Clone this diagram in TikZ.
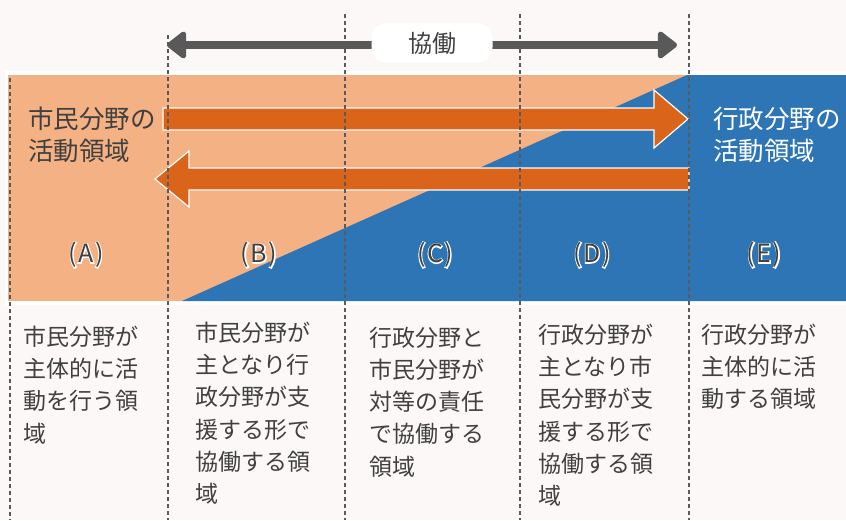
\documentclass[tikz,border=0pt]{standalone}
\usepackage{fontspec}
\setmainfont{Noto Sans CJK JP}
\newfontfamily\halofont[RawFeature={embolden=8}]{Noto Sans CJK JP}
\usetikzlibrary{arrows.meta}
\definecolor{bg}{HTML}{FBF8F7}
\definecolor{lorange}{HTML}{F4B183}
\definecolor{dorange}{HTML}{D9641A}
\definecolor{mblue}{HTML}{2E75B6}
\definecolor{tgray}{HTML}{404040}
\definecolor{agray}{HTML}{595959}
\definecolor{dgray}{HTML}{5A5A5A}
\tikzset{
  dashline/.style={draw=dgray, line width=1.4pt, dash pattern=on 4pt off 3pt},
  bigarrow/.style={draw=white, line width=1.2pt, fill=dorange, line join=miter},
  kyoarrow/.style={draw=agray, line width=7.5pt, {Triangle[length=21pt,width=31pt,round]}-{Triangle[length=21pt,width=31pt,round]}},
  kbox/.style={fill=white, rounded corners=16pt, minimum width=121pt, minimum height=40pt, inner sep=0pt, text=tgray, font=\fontsize{24}{28}\selectfont},
  areatext/.style={align=left, inner sep=0pt, anchor=west, font=\fontsize{25.5}{32}\selectfont},
  desc/.style={align=left, inner sep=0pt, anchor=north west, text=tgray, font=\fontsize{23}{32.3}\selectfont},
  lbl/.style={inner sep=0pt, text=tgray, font=\fontsize{25}{28}\selectfont}
}
\newcommand{\halotext}[1]{\rlap{\halofont\color{white}#1}#1}
\begin{document}
\begin{tikzpicture}[x=1pt,y=-1pt]
% background
\fill[bg] (0,0) rectangle (846,520);
\useasboundingbox (0,0) rectangle (846,520);
% band
\fill[white] (5,71) rectangle (846,305);
\fill[lorange] (8,75) rectangle (846,301);
\fill[mblue] (182,301) -- (687,75) -- (846,75) -- (846,301) -- cycle;
% big orange arrows
\draw[bigarrow] (163,108) -- (654,108) -- (654,90) -- (688,119) -- (654,148) -- (654,130) -- (163,130) -- cycle;
\draw[bigarrow] (689,168) -- (189,168) -- (189,151) -- (155,179) -- (189,207) -- (189,190) -- (689,190) -- cycle;
% dashed separators
\coordinate (d1t) at (10,78);  \coordinate (d1b) at (10,520);
\coordinate (d2t) at (168,35); \coordinate (d2b) at (168,520);
\coordinate (d3t) at (345,14); \coordinate (d3b) at (345,520);
\coordinate (d4t) at (520,14); \coordinate (d4b) at (520,520);
\coordinate (d5t) at (689,14); \coordinate (d5b) at (689,520);
\foreach \i in {1,...,5} \draw[dashline] (d\i t) -- (d\i b);
% kyodo arrow
\coordinate (kl) at (167,45);
\coordinate (kr) at (677,45);
\draw[kyoarrow] (kl) -- (kr);
\node[kbox] (kyo) at (432,43) {協働};
% area texts
\node[areatext, text=tgray] (shimin) at (28,135) {市民分野の\\活動領域};
\node[areatext, text=white] (gyosei) at (713,135) {行政分野の\\活動領域};
% labels
\node[lbl] (la) at (86,255) {\halotext{(\kern1.5pt A\kern1.5pt)}};
\node[lbl] (lb) at (259,255) {\halotext{(\kern1.5pt B\kern1.5pt)}};
\node[lbl] (lc) at (435,255) {\halotext{(\kern1.5pt C\kern1.5pt)}};
\node[lbl] (ld) at (592,255) {\halotext{(\kern1.5pt D\kern1.5pt)}};
\node[lbl] (le) at (764,255) {\halotext{(\kern1.5pt E\kern1.5pt)}};
% descriptions
\node[desc] (ta) at (23,325.5) {市民分野が\\主体的に活\\動を行う領\\域};
\node[desc] (tb) at (195,321.5) {市民分野が\\主となり行\\政分野が支\\援する形で\\協働する領\\域};
\node[desc] (tc) at (369,326.5) {行政分野と\\市民分野が\\対等の責任\\で協働する\\領域};
\node[desc] (td) at (538,323.5) {行政分野が\\主となり市\\民分野が支\\援する形で\\協働する領\\域};
\node[desc] (te) at (701,323.5) {行政分野が\\主体的に活\\動する領域};
\end{tikzpicture}
\end{document}
